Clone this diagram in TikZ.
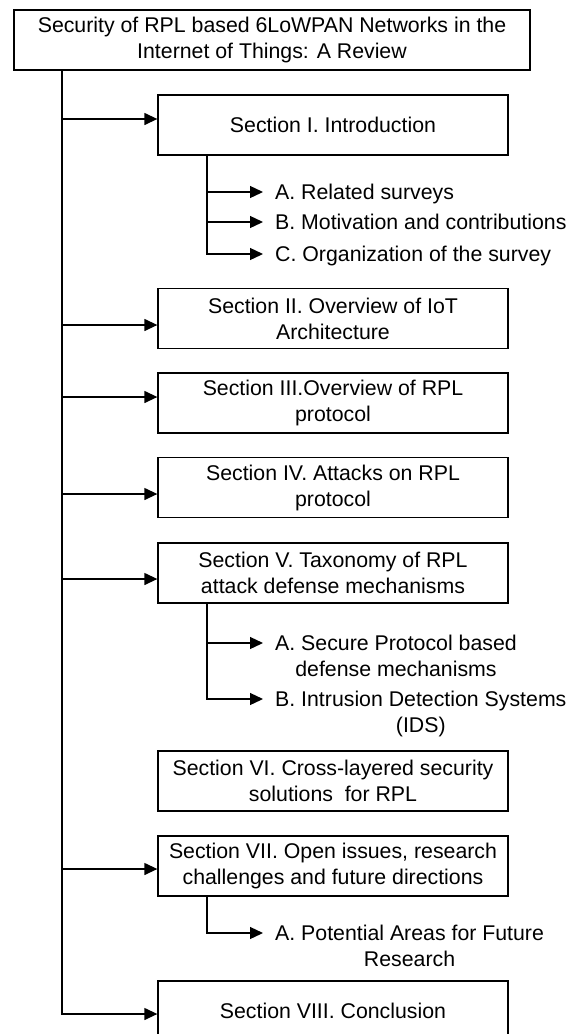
\documentclass[tikz,border=0pt]{standalone}
\usepackage{fontspec}
\setmainfont{Liberation Sans}
\usetikzlibrary{arrows.meta}
\begin{document}
\begin{tikzpicture}[x=1pt,y=-1pt,
  every node/.style={font=\fontsize{21.3}{26}\selectfont},
  box/.style={draw, line width=1.3pt, minimum width=350pt, minimum height=60pt, align=center, inner sep=0pt},
  sub/.style={align=center, inner xsep=12pt, inner ysep=0pt},
  conn/.style={line width=1.3pt},
  arr/.style={conn, -{Triangle[length=13pt,width=12pt]}}]
\useasboundingbox (0,0) rectangle (575,1034);
\clip (0,0) rectangle (575,1034);

\node[box, minimum width=516pt] (top) at (272,40) {Security of RPL based 6LoWPAN Networks in the\\Internet of Things: A Review};
\node[box] (s1) at (333,125) {Section I. Introduction};
\node[box] (s2) at (333,318.5) {Section II. Overview of IoT\\Architecture};
\node[box] (s3) at (333,403) {Section III.Overview of RPL\\protocol};
\node[box] (s4) at (333,487.5) {Section IV. Attacks on RPL\\protocol};
\node[box] (s5) at (333,573) {Section V. Taxonomy of RPL\\attack defense mechanisms};
\node[box] (s6) at (333,781) {Section VI. Cross-layered security\\solutions~ for RPL};
\node[box] (s7) at (333,866) {Section VII. Open issues, research\\challenges and future directions};
\node[box] (s8) at (333,1011) {Section VIII. Conclusion};

% sub items (base anchor = baseline of the last line)
\node[sub, anchor=base west] (a1) at (263,199.7) {A. Related surveys};
\node[sub, anchor=base west] (b1) at (263,229.7) {B. Motivation and contributions};
\node[sub, anchor=base west] (c1) at (263,261.7) {C. Organization of the survey};
\node[sub, anchor=base west] (a5) at (263,676.7) {A. Secure Protocol based\\defense mechanisms};
\node[sub, anchor=base west] (b5) at (263,732.7) {B. Intrusion Detection Systems\\(IDS)};
\node[sub, anchor=base west] (a7) at (263,966.7) {A. Potential Areas for Future\\Research};

% trunk
\coordinate (tb) at (62,1014);
\coordinate (br) at (207,0);
\draw[arr] (top.south -| tb) -- (tb) -- (s8.west |- tb);
\coordinate (t1) at (62,119);
\coordinate (t2) at (62,325);
\coordinate (t3) at (62,397);
\coordinate (t4) at (62,494);
\coordinate (t5) at (62,579);
\coordinate (t7) at (62,869);
\draw[arr] (t1) -- (s1.west |- t1);
\draw[arr] (t2) -- (s2.west |- t2);
\draw[arr] (t3) -- (s3.west |- t3);
\draw[arr] (t4) -- (s4.west |- t4);
\draw[arr] (t5) -- (s5.west |- t5);
\draw[arr] (t7) -- (s7.west |- t7);

% section I branches
\draw[arr] (s1.south -| br) |- ([yshift=7.7pt]c1.base west);
\draw[arr] (br |- a1.base) ++(0,-7.7) -- ([yshift=7.7pt]a1.base west);
\draw[arr] (br |- b1.base) ++(0,-7.7) -- ([yshift=7.7pt]b1.base west);

% section V branches
\draw[arr] (s5.south -| br) |- ([yshift=33.7pt]b5.base west);
\draw[arr] (br |- a5.base) ++(0,-33.7) -- ([yshift=33.7pt]a5.base west);

% section VII branch
\draw[arr] (s7.south -| br) |- ([yshift=33.7pt]a7.base west);
\end{tikzpicture}
\end{document}
